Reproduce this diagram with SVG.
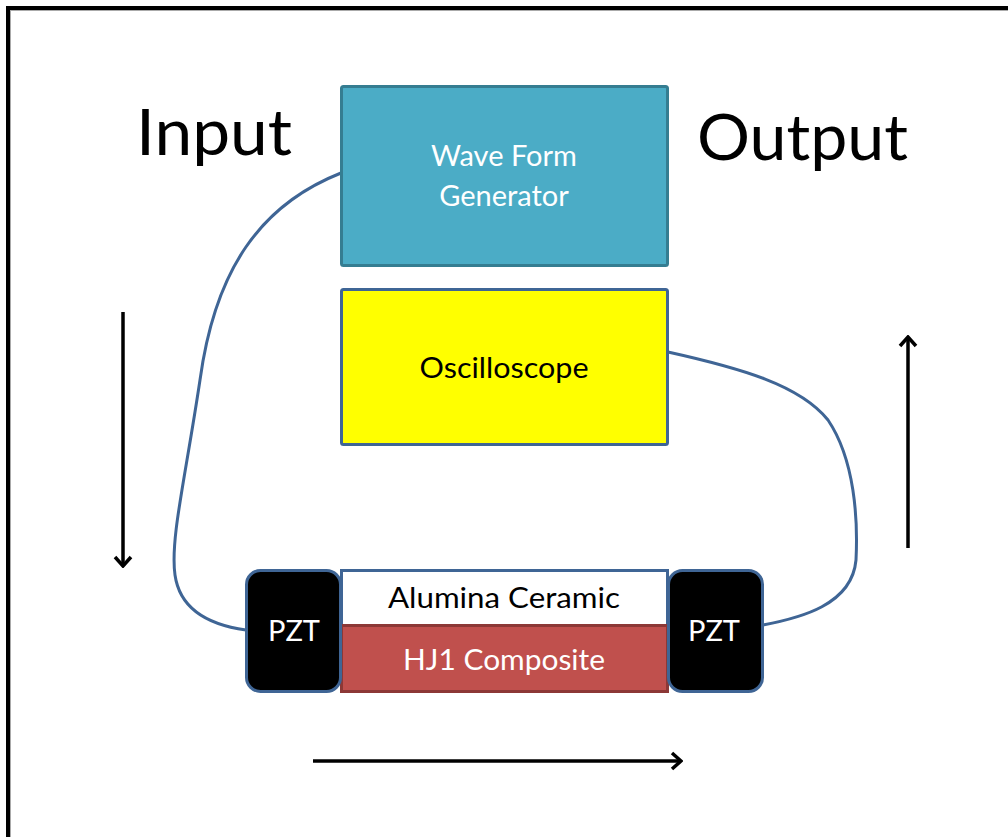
<svg xmlns="http://www.w3.org/2000/svg" width="1008" height="837" viewBox="0 0 1008 837">
<defs>
<style>
.lbl{font-family:Lato,"Liberation Sans",sans-serif;font-size:29px;text-anchor:middle}
.big{font-family:Lato,"Liberation Sans",sans-serif;font-size:64px}
.wire{fill:none;stroke:#3F6595;stroke-width:3}
.arr{fill:none;stroke:#000;stroke-width:3.5;marker-end:url(#ah)}
</style>
<marker id="ah" markerUnits="userSpaceOnUse" viewBox="-12 -10 14 20" refX="0" refY="0" markerWidth="14" markerHeight="20" orient="auto">
<path d="M-9,-8 L0,0 L-9,8" fill="none" stroke="#000" stroke-width="3.5" stroke-linejoin="miter"/>
</marker>
</defs>
<rect width="1008" height="837" fill="#fff"/>
<rect x="10.5" y="10.5" width="1100" height="900" fill="none" stroke="#aaa" stroke-width="1"/>
<rect x="8" y="8" width="1100" height="900" fill="none" stroke="#000" stroke-width="4"/>

<g id="labels">
<text class="big" x="136" y="155" textLength="156" lengthAdjust="spacingAndGlyphs">Input</text>
<text class="big" x="697" y="160" textLength="211" lengthAdjust="spacingAndGlyphs">Output</text>
</g>

<g id="connectors">
<path class="wire" d="M341,173 C260,205 215,270 200,380 C185,480 170,540 175,575 C180,610 210,625 246,630"/>
<path class="wire" d="M668,352 C740,368 800,385 828,420 C855,460 858,520 856,560 C852,605 800,618 763,625"/>
<line class="arr" x1="123" y1="312" x2="123" y2="566"/>
<line class="arr" x1="908" y1="548" x2="908" y2="337"/>
<line class="arr" x1="313" y1="761" x2="681" y2="761"/>
</g>

<g id="wave-form-generator">
<rect x="341.5" y="86.5" width="326" height="179" rx="2" fill="#4BACC6" stroke="#357D91" stroke-width="3"/>
<text class="lbl" x="504" y="166" fill="#fff">Wave Form</text>
<text class="lbl" x="504" y="206" fill="#fff">Generator</text>
</g>

<g id="oscilloscope">
<rect x="341.5" y="289.5" width="326" height="155" rx="2" fill="#FFFF00" stroke="#3F6595" stroke-width="3"/>
<text class="lbl" x="504" y="378" fill="#000" textLength="169" lengthAdjust="spacingAndGlyphs">Oscilloscope</text>
</g>

<g id="alumina-ceramic">
<rect x="341.5" y="570.5" width="326" height="55" fill="#fff" stroke="#3F6595" stroke-width="3"/>
<text class="lbl" x="504" y="608" fill="#000" textLength="232" lengthAdjust="spacingAndGlyphs">Alumina Ceramic</text>
</g>

<g id="hj1-composite">
<rect x="341.5" y="625.5" width="326" height="66" fill="#C0504D" stroke="#8C3836" stroke-width="3"/>
<text class="lbl" x="504" y="670" fill="#fff" textLength="202" lengthAdjust="spacingAndGlyphs">HJ1 Composite</text>
</g>

<g id="pzt-left">
<rect x="246.5" y="570.5" width="94" height="121" rx="14" fill="#000" stroke="#3F6595" stroke-width="3"/>
<text class="lbl" x="294" y="641" fill="#fff">PZT</text>
</g>

<g id="pzt-right">
<rect x="668.5" y="570.5" width="94" height="121" rx="14" fill="#000" stroke="#3F6595" stroke-width="3"/>
<text class="lbl" x="714" y="641" fill="#fff">PZT</text>
</g>
</svg>
